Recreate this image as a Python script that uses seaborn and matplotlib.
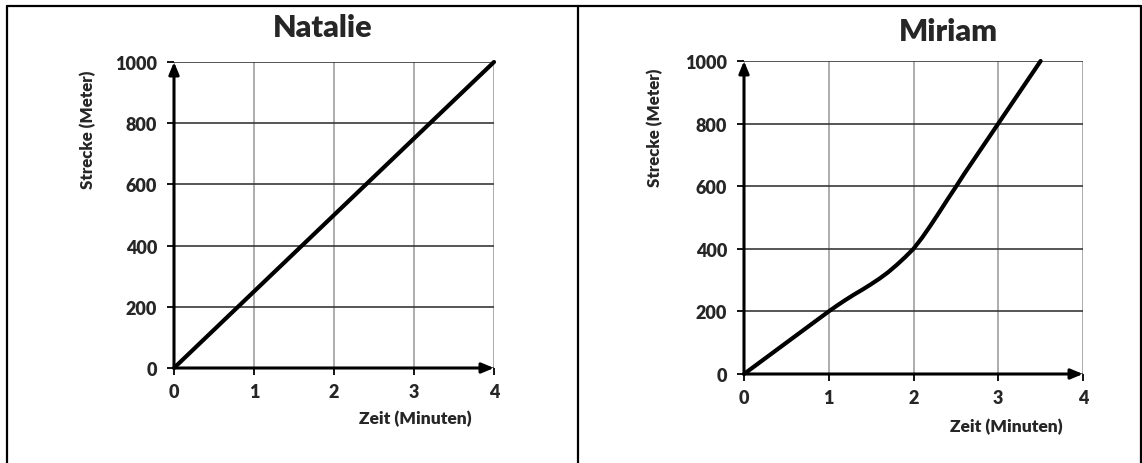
import matplotlib
matplotlib.use("Agg")
import matplotlib.pyplot as plt
import seaborn as sns
import pandas as pd
from matplotlib.lines import Line2D

# data
natalie_time = [0, 1, 2, 3, 4]
natalie_dist = [0, 250, 500, 750, 1000]

miriam_time = [0, 0.5, 1, 1.1, 1.2, 1.3, 1.4, 1.5, 1.6, 1.7, 1.8, 1.9, 2.0,
               2.1, 2.2, 2.3, 2.4, 2.5, 2.6, 2.75, 3, 3.25, 3.5]
miriam_dist = [0, 100, 200, 219, 237, 254, 270, 287, 305, 325, 348, 373, 400,
               435, 474, 515, 557, 598, 640, 700, 800, 900, 1000]

x_ticks = [0, 1, 2, 3, 4]
y_ticks = [0, 200, 400, 600, 800, 1000]

sns.set_theme(style="white")
plt.rcParams["font.family"] = ["Lato", "DejaVu Sans"]
plt.rcParams["font.weight"] = "bold"

fig = plt.figure(figsize=(11.42, 4.64), dpi=100)
W, H = 1142, 464


def make_axes(left, top, right, bottom):
    return fig.add_axes([left / W, 1 - bottom / H, (right - left) / W, (bottom - top) / H])


def style_axes(ax, df):
    sns.lineplot(data=df, x="t", y="d", ax=ax, color="black", linewidth=3.0, clip_on=False)
    ax.set_xlim(0, 4)
    ax.set_ylim(0, 1000)
    ax.set_xticks(x_ticks)
    ax.set_yticks(y_ticks)
    ax.set_xlabel("")
    ax.set_ylabel("")
    for s in ax.spines.values():
        s.set_visible(False)
    ax.grid(axis="y", color="#383838", linewidth=1.2)
    ax.grid(axis="x", color="#a0a0a0", linewidth=1.2)
    ax.set_axisbelow(True)
    ax.tick_params(axis="both", which="major", length=5, width=1.3, color="black",
                   labelsize=13, bottom=True, left=True)
    ax.tick_params(axis="y", pad=7)
    ax.tick_params(axis="x", pad=6)
    for lab in ax.get_xticklabels() + ax.get_yticklabels():
        lab.set_fontweight("heavy")
    # axis arrows
    arrow = dict(arrowstyle="-|>,head_length=0.6,head_width=0.25", color="black", lw=2.2,
                 shrinkA=0, shrinkB=0)
    ax.annotate("", xy=(0, 1.0), xytext=(0, 0), xycoords="axes fraction",
                textcoords="axes fraction", arrowprops=arrow, annotation_clip=False)
    ax.annotate("", xy=(1.0, 0), xytext=(0, 0), xycoords="axes fraction",
                textcoords="axes fraction", arrowprops=arrow, annotation_clip=False)


ax1 = make_axes(174, 63, 494, 369)
style_axes(ax1, pd.DataFrame({"t": natalie_time, "d": natalie_dist}))
ax2 = make_axes(744, 62, 1083, 375)
style_axes(ax2, pd.DataFrame({"t": miriam_time, "d": miriam_dist}))

# titles and axis labels
fig.text(323 / W, 1 - 28 / H, "Natalie", ha="center", va="center", fontsize=22, fontweight="heavy")
fig.text(948 / W, 1 - 32 / H, "Miriam", ha="center", va="center", fontsize=22, fontweight="heavy")
fig.text(88 / W, 1 - 71 / H, "Strecke (Meter)", rotation=90, ha="center", va="top",
         fontsize=12.2, fontweight="heavy")
fig.text(655 / W, 1 - 69 / H, "Strecke (Meter)", rotation=90, ha="center", va="top",
         fontsize=12.2, fontweight="heavy")
fig.text(472 / W, 1 - 419 / H, "Zeit (Minuten)", ha="right", va="center",
         fontsize=12.5, fontweight="heavy")
fig.text(1063 / W, 1 - 427 / H, "Zeit (Minuten)", ha="right", va="center",
         fontsize=12.5, fontweight="heavy")

# outer frame and divider
lw = 1.6
fig.add_artist(Line2D([7 / W, 1141 / W], [1 - 7 / H, 1 - 7 / H], color="black", lw=lw))
fig.add_artist(Line2D([7 / W, 7 / W], [0, 1 - 7 / H], color="black", lw=lw))
fig.add_artist(Line2D([1141 / W, 1141 / W], [0, 1 - 7 / H], color="black", lw=lw))
fig.add_artist(Line2D([578 / W, 578 / W], [0, 1 - 7 / H], color="black", lw=lw))

fig.savefig("out.png", dpi=100)
